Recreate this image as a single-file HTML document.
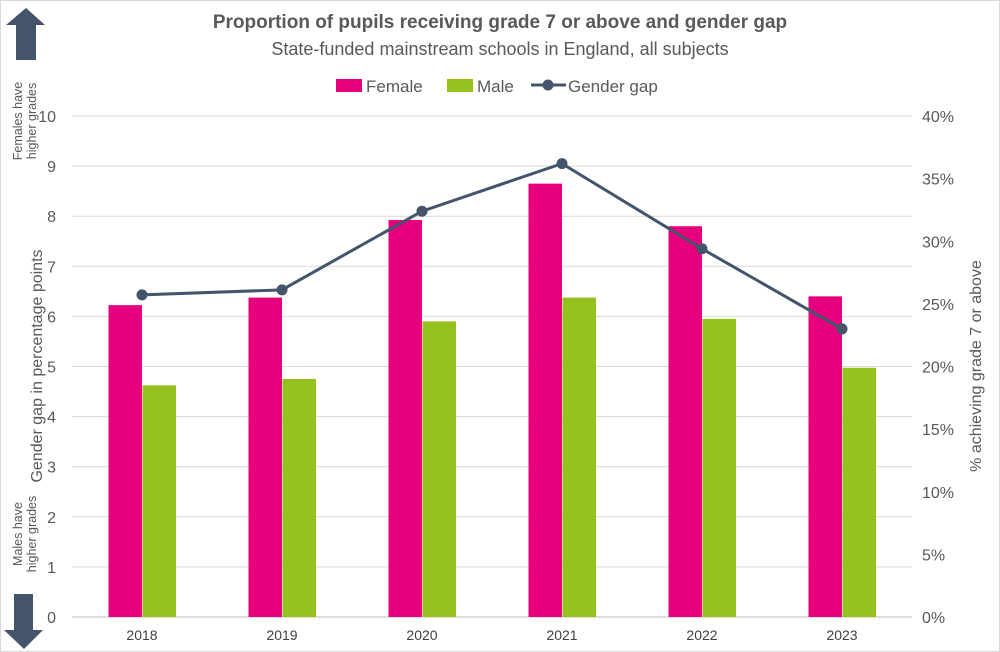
<!DOCTYPE html>
<html><head><meta charset="utf-8"><style>
html,body{margin:0;padding:0;background:#fff;}
svg{display:block;font-family:"Liberation Sans",Arial,sans-serif;}
</style></head><body>
<svg id="chart" width="1000" height="652" viewBox="0 0 1000 652">
<rect x="0.5" y="0.5" width="999" height="651" fill="#fff" stroke="#d9d9d9"/>
<text x="500" y="28" text-anchor="middle" font-size="19" font-weight="bold" fill="#595959">Proportion of pupils receiving grade 7 or above and gender gap</text>
<text x="500" y="55" text-anchor="middle" font-size="18" fill="#595959">State-funded mainstream schools in England, all subjects</text>
<g>
 <g><rect x="336" y="79" width="26" height="13" fill="#e6007e"/><text x="366" y="92" font-size="17" fill="#595959">Female</text></g>
 <g><rect x="447" y="79" width="26" height="13" fill="#95c11f"/><text x="477" y="92" font-size="17" fill="#595959">Male</text></g>
 <g><line x1="531" y1="85" x2="566" y2="85" stroke="#44546a" stroke-width="3"/><circle cx="548" cy="85" r="5.5" fill="#44546a"/><text x="568" y="92" font-size="17" fill="#595959">Gender gap</text></g>
</g>
<g><polygon points="26,8 45,25 36,25 36,60 16,60 16,25 6,25" fill="#44546a"/></g>
<g><polygon points="14,594 33,594 33,630 43,630 24,649 4,630 14,630" fill="#44546a"/></g>
<text transform="translate(22,121) rotate(-90)" text-anchor="middle" font-size="12.5" fill="#595959"><tspan x="0" dy="0">Females have</tspan><tspan x="0" dy="14">higher grades</tspan></text>
<text transform="translate(22,534) rotate(-90)" text-anchor="middle" font-size="12.5" fill="#595959"><tspan x="0" dy="0">Males have</tspan><tspan x="0" dy="14">higher grades</tspan></text>
<text transform="translate(42,366) rotate(-90)" text-anchor="middle" font-size="16" fill="#595959">Gender gap in percentage points</text>
<text transform="translate(981,366) rotate(-90)" text-anchor="middle" font-size="16" fill="#595959">% achieving grade 7 or above</text>
<g id="grid"></g><g id="bars"></g><g id="line"></g><g id="axes"></g>
</svg>
<script>
const categories = ["2018","2019","2020","2021","2022","2023"];
const femalePct = [24.9,25.5,31.7,34.6,31.2,25.6];
const malePct = [18.5,19.0,23.6,25.5,23.8,19.9];
const genderGap = [6.43,6.53,8.1,9.05,7.35,5.75];
const leftTicks = [0,1,2,3,4,5,6,7,8,9,10];
const rightTicks = ["0%","5%","10%","15%","20%","25%","30%","35%","40%"];
const NS="http://www.w3.org/2000/svg";
const X0=72,X1=912,Y0=617,Y1=116;
const yL=v=>Y0-(v/10)*(Y0-Y1);
const yR=v=>Y0-(v/40)*(Y0-Y1);
const band=(X1-X0)/categories.length;
const xc=i=>X0+band*(i+0.5);
function mk(tag,attrs,parent){const e=document.createElementNS(NS,tag);for(const k in attrs)e.setAttribute(k,attrs[k]);document.getElementById(parent).appendChild(e);return e;}
leftTicks.forEach(t=>{
 const g=mk('line',{x1:X0,x2:X1,y1:yL(t),y2:yL(t),stroke:t===0?'#bfbfbf':'#d9d9d9','stroke-width':1},'grid');
 
 
 const tx=mk('text',{x:56,y:yL(t)+6,'text-anchor':'end','font-size':16,fill:'#595959'},'axes');tx.textContent=t;
 
 
});
rightTicks.forEach((t,i)=>{
 const tx=mk('text',{x:922,y:yR(i*5)+6,'font-size':16,fill:'#595959'},'axes');tx.textContent=t;
 
 
});
const bw=33.5;
categories.forEach((c,i)=>{
 const f=mk('rect',{x:xc(i)-bw,y:yR(femalePct[i]),width:bw,height:Y0-yR(femalePct[i]),fill:'#e6007e'},'bars');
 
 
 const m=mk('rect',{x:xc(i)+0.5,y:yR(malePct[i]),width:bw,height:Y0-yR(malePct[i]),fill:'#95c11f'},'bars');
 
 
 const tx=mk('text',{x:xc(i),y:640,'text-anchor':'middle','font-size':14,fill:'#404040'},'axes');tx.textContent=c;
 
 
});
const pl=mk('polyline',{points:genderGap.map((v,i)=>xc(i)+','+yL(v)).join(' '),fill:'none',stroke:'#44546a','stroke-width':3},'line');


genderGap.forEach((v,i)=>{
 const p=mk('circle',{cx:xc(i),cy:yL(v),r:5.5,fill:'#44546a'},'line');
 
 
});
</script>
</body></html>
